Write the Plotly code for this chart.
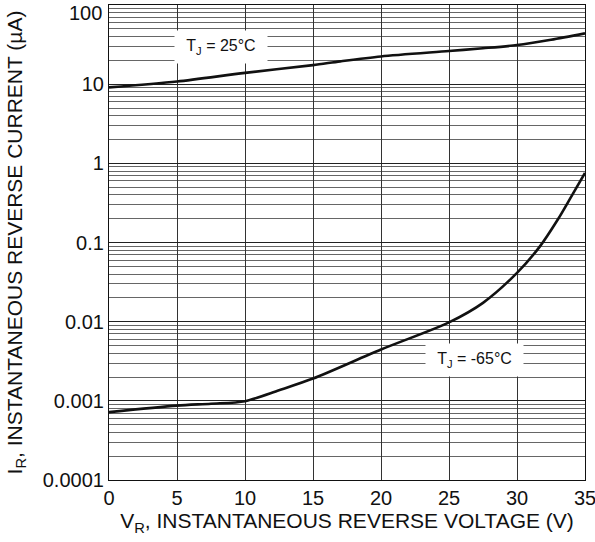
import math
import plotly.graph_objects as go

# Data
vr_25 = [0, 5, 10, 15, 17, 20, 25, 27.5, 30, 32.5, 35]
ir_25 = [9.1, 10.8, 13.9, 17.4, 19.4, 22.4, 26.2, 28.4, 31.2, 36.4, 43.8]

vr_m65 = [0, 5, 7.5, 10, 12.5, 15, 20, 25, 27.5, 30, 31.7, 33, 34, 35]
ir_m65 = [0.00072, 0.00087, 0.00092, 0.00099, 0.00136, 0.00191, 0.00445,
          0.0098, 0.0173, 0.0413, 0.09, 0.195, 0.383, 0.757]

y_tickvals = [0.0001, 0.001, 0.01, 0.1, 1, 10, 100]
y_ticktext = ["0.0001", "0.001", "0.01", "0.1", "1", "10", ""]
top_tick_text = "100"
x_tickvals = [0, 5, 10, 15, 20, 25, 30, 35]

label_25 = dict(text="T<sub>J</sub> = 25°C", x=8.2, y=29.7)
label_m65 = dict(text="T<sub>J</sub> = -65°C", x=26.9, y=0.00332)

minor_vals = [m * 10 ** e for e in range(-4, 2) for m in range(2, 10)]

FONT = "Liberation Sans, Arial, sans-serif"

fig = go.Figure()
fig.add_trace(go.Scatter(x=vr_25, y=ir_25, mode="lines",
                         line=dict(color="#111", width=2.6, shape="spline", smoothing=0.8),
                         showlegend=False))
fig.add_trace(go.Scatter(x=vr_m65, y=ir_m65, mode="lines",
                         line=dict(color="#111", width=2.6, shape="spline", smoothing=0.8),
                         showlegend=False))

for lab, w in ((label_25, 90), (label_m65, 95)):
    fig.add_annotation(x=lab["x"], y=math.log10(lab["y"]), xref="x", yref="y",
                       text=lab["text"], showarrow=False, bgcolor="white",
                       width=w, height=30,
                       font=dict(family=FONT, size=16, color="#111"))

# top tick label, drawn slightly below its gridline as in the reference
fig.add_annotation(x=0, xref="paper", y=math.log10(y_tickvals[-1]), yref="y",
                   text=top_tick_text, showarrow=False, xanchor="right", yanchor="middle",
                   xshift=-5, yshift=-8, font=dict(family=FONT, size=20, color="#111"))

fig.update_layout(
    width=595, height=542,
    margin=dict(l=109, r=10, t=5, b=62),
    paper_bgcolor="white", plot_bgcolor="white",
    font=dict(family=FONT, color="#111"),
)
fig.update_xaxes(
    range=[0, 35], tickvals=x_tickvals, showgrid=True, gridcolor="#333", gridwidth=1,
    showline=True, linecolor="#111", linewidth=1.2, mirror=True,
    ticks="", zeroline=False, tickfont=dict(size=20), automargin=False,
    ticklabeloverflow="allow",
    title=dict(text="V<sub>R</sub>, INSTANTANEOUS REVERSE VOLTAGE (V)",
               font=dict(size=21), standoff=5),
)
fig.update_yaxes(
    type="log", range=[-4, 2], tickvals=y_tickvals, ticktext=y_ticktext,
    showgrid=True, gridcolor="#222", gridwidth=1.2,
    minor=dict(tickvals=minor_vals, showgrid=True, gridcolor="#666", gridwidth=1, ticks=""),
    showline=True, linecolor="#111", linewidth=1.2, mirror=True,
    ticks="", zeroline=False, tickfont=dict(size=20), automargin=False,
    ticklabeloverflow="allow",
    title=dict(text="I<sub>R</sub>, INSTANTANEOUS REVERSE CURRENT (µA)",
               font=dict(size=21), standoff=14),
)

fig.write_html("out.html", config={"displayModeBar": False},
               post_script="document.body.style.margin='0px';document.body.style.overflow='hidden';")
